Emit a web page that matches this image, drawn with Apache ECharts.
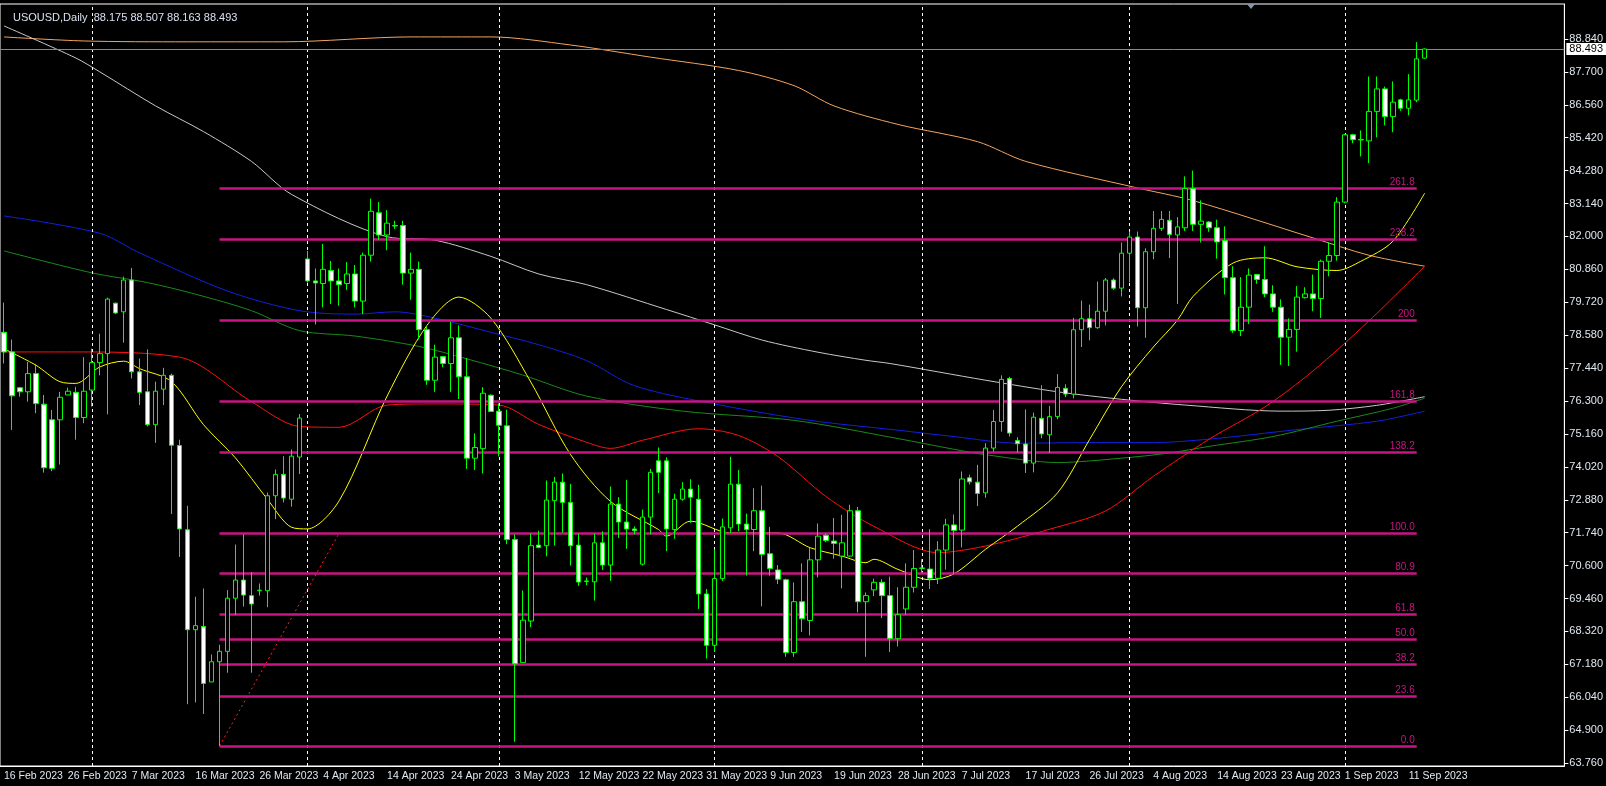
<!DOCTYPE html>
<html>
<head>
<meta charset="utf-8">
<script src="https://cdn.jsdelivr.net/npm/echarts@6/dist/echarts.min.js"></script>
<style>
html,body{margin:0;padding:0;background:#000;}
#main{width:1606px;height:786px;}
</style>
</head>
<body>
<div id="main"></div>
<script>
// daily candles, USOUSD 16 Feb 2023 .. 12 Sep 2023
var opens = [78.68,78.00,76.76,76.62,77.25,76.19,75.65,75.65,76.51,76.60,75.73,76.68,77.63,77.94,79.69,79.39,80.49,77.31,76.62,75.48,
76.71,77.19,74.76,71.84,68.38,68.49,66.57,67.27,67.63,69.47,70.10,69.56,69.73,69.73,73.02,73.76,72.90,74.36,81.22,80.46,
80.37,80.82,80.46,80.37,80.70,79.76,81.35,82.82,82.05,82.36,82.38,80.73,80.86,78.77,77.02,77.84,77.60,78.49,77.14,74.32,
74.65,76.50,75.95,75.44,71.50,67.24,68.68,71.31,71.29,72.85,73.49,72.79,71.31,70.05,70.04,71.39,70.62,72.73,72.11,71.87,
70.65,72.28,74.23,74.23,71.85,72.90,73.25,72.90,69.62,67.84,70.15,71.91,73.42,72.04,71.85,72.50,71.01,70.45,70.11,67.59,
69.35,68.70,70.80,71.65,71.45,70.93,70.93,72.50,69.35,69.76,70.02,69.56,68.07,69.10,69.85,70.50,70.48,70.16,71.14,72.01,
71.83,73.64,73.49,73.12,74.67,75.59,77.08,74.93,74.81,74.15,75.70,75.13,75.76,76.74,76.54,78.77,79.15,78.84,79.41,80.49,
80.21,81.42,81.98,79.53,81.47,82.28,82.56,82.05,82.30,83.66,82.42,82.50,82.30,81.86,80.57,78.74,79.55,80.68,80.51,80.01,
79.55,78.51,78.78,79.88,80.01,79.85,81.14,81.34,83.19,85.52,85.34,85.31,86.33,87.11,86.15,86.73,86.44,86.72,88.175];
var highs = [79.71,78.43,76.79,77.65,77.59,76.51,75.99,76.62,76.76,76.79,77.82,78.11,78.63,79.88,79.71,80.61,80.91,77.77,78.09,76.97,
77.45,77.25,74.96,72.67,69.52,69.81,67.52,67.86,69.75,71.33,71.68,70.38,69.98,73.13,73.93,74.39,74.62,75.85,81.50,80.89,
81.74,81.15,80.89,81.11,81.01,81.44,83.31,83.19,82.91,82.54,82.54,81.44,81.13,78.88,78.25,77.84,79.04,78.92,77.79,75.18,
76.78,76.53,76.22,76.00,71.68,69.74,71.71,71.81,73.55,73.67,73.79,73.43,71.71,70.19,71.71,71.79,73.34,72.97,73.57,71.96,
72.54,73.95,74.69,74.35,73.09,73.49,73.59,73.40,69.79,71.16,72.23,74.37,73.91,72.40,73.28,73.37,71.94,70.62,70.15,70.02,
70.68,71.22,72.06,71.71,72.25,72.36,72.71,72.63,69.67,70.15,70.13,70.22,69.85,70.68,71.14,70.82,71.86,71.45,72.22,72.37,
73.86,73.75,74.09,74.84,75.99,77.19,77.14,75.05,76.01,75.90,76.85,76.13,77.23,76.88,79.18,79.78,79.64,80.44,80.56,80.55,
81.79,82.17,82.17,81.59,82.88,82.88,82.88,82.67,84.08,84.28,83.25,82.53,82.58,82.35,80.97,80.59,80.89,80.70,81.66,80.31,
79.82,79.16,80.28,80.24,80.68,81.20,81.81,83.36,85.55,85.55,85.67,87.54,87.54,87.19,87.37,86.77,87.62,88.73,88.507];
var lows = [77.60,75.30,76.45,76.28,75.88,73.82,73.87,74.10,76.51,74.96,75.53,76.11,77.19,75.84,79.31,78.32,77.08,76.16,75.42,74.85,
76.16,72.39,70.90,65.80,65.86,65.46,66.57,64.35,66.89,68.89,69.18,66.89,69.56,69.16,72.21,72.79,72.64,73.77,80.40,78.95,
79.54,79.66,79.60,80.15,79.54,79.31,81.13,81.87,81.52,82.26,80.33,79.81,78.43,76.86,76.62,77.47,76.62,76.37,73.95,73.91,
73.79,75.92,74.38,71.34,64.50,67.24,68.47,71.20,70.92,71.29,71.74,70.60,69.90,69.92,69.39,70.45,70.07,71.56,71.18,71.68,
70.60,71.68,73.11,71.10,71.53,72.85,72.08,69.10,67.38,67.61,70.07,71.73,71.79,70.25,71.10,69.19,70.25,69.96,67.44,67.44,
68.30,68.18,70.19,71.41,70.84,69.81,70.91,68.98,67.44,69.54,68.78,67.61,67.80,68.90,69.67,70.36,69.79,69.96,70.46,70.31,
71.23,73.41,72.66,72.95,74.55,75.24,75.07,74.52,73.81,73.83,75.01,74.50,75.67,76.43,76.39,78.17,78.40,78.80,78.92,80.15,
79.92,80.41,78.88,78.49,81.21,82.19,81.25,79.66,82.19,82.19,81.79,82.16,81.23,79.99,78.66,78.55,78.97,80.36,79.90,79.39,
77.55,77.51,78.01,79.85,79.41,79.18,80.62,81.16,83.15,85.23,84.77,84.54,85.43,85.85,85.61,86.35,86.19,86.65,88.163];
var closes = [78.00,76.48,76.62,77.25,76.21,73.99,73.97,76.43,76.64,75.73,76.64,77.63,77.94,79.83,79.35,80.49,77.31,76.60,75.48,76.64,
77.19,74.77,71.87,68.38,68.52,66.52,67.27,67.63,69.47,70.10,69.58,69.27,69.75,73.02,73.76,72.94,74.39,75.71,80.46,80.39,
80.86,80.46,80.33,80.70,79.76,81.35,82.87,82.05,82.46,82.38,80.73,80.86,78.77,77.02,77.82,77.60,78.49,77.14,74.32,74.69,
76.57,75.94,75.46,71.50,67.20,68.71,71.29,71.23,72.87,73.49,72.79,71.29,70.03,70.07,71.39,70.62,72.73,72.11,71.87,71.81,
72.28,73.83,73.83,71.87,72.90,73.25,72.97,69.62,67.84,70.15,71.94,73.42,72.04,71.85,72.50,70.99,70.50,70.13,67.59,69.35,
68.76,70.80,71.62,71.47,71.37,71.39,72.50,69.35,69.56,70.02,69.56,68.07,68.90,69.85,70.50,70.52,70.16,71.14,72.01,71.82,
73.60,73.50,73.10,74.67,75.59,77.05,75.19,74.82,74.15,75.74,75.16,75.76,76.77,76.54,78.77,79.15,78.84,79.41,80.49,80.21,
81.42,81.98,79.53,81.47,82.28,82.59,82.07,82.33,83.66,82.42,82.53,82.30,81.81,80.57,78.74,79.55,80.66,80.51,80.01,79.55,
78.51,78.78,79.90,80.01,79.85,81.14,81.34,83.19,85.52,85.35,85.36,86.33,87.11,86.15,86.65,86.44,86.73,88.15,88.493];

// moving averages: [bar index, price]
var maYellow = [[0,78.11],[4,77.54],[7,76.97],[9,76.91],[12,77.48],[15,77.68],[17,77.42],[21,76.97],[25,75.48],[29,74.33],[33,72.90],[36,71.93],
  [38,71.87],[42,72.85],[48,76.47],[53,78.92],[57,79.90],[61,79.17],[66,76.96],[71,74.44],[76,72.82],[82,71.85],[83,71.62],[86,72.14],[91,71.73],
  [97,71.73],[101,71.22],[105,70.93],[108,70.70],[109,70.82],[112,70.47],[116,70.11],[119,70.31],[123,71.17],[127,71.97],[132,73.12],[136,74.96],
  [140,76.79],[144,78.17],[147,79.09],[149,79.93],[154,81.08],[158,81.26],[162,80.95],[167,80.82],[170,81.14],[174,81.83],[178,83.50]];
var maRed = [[0,78.00],[9,78.00],[22,77.82],[31,76.28],[37,75.42],[42,75.39],[48,76.16],[54,76.20],[62,76.16],[67,75.49],[73,74.87],[76,74.66],
  [80,74.94],[87,75.34],[92,75.11],[97,74.37],[103,72.99],[109,71.96],[117,71.05],[123,71.28],[131,71.86],[138,72.49],[144,73.69],[151,74.98],
  [158,76.10],[164,77.34],[171,79.07],[178,80.97]];
var maGreen = [[0,81.50],[11,80.74],[18,80.40],[24,80.00],[31,79.43],[37,78.74],[44,78.55],[52,78.19],[58,77.76],[65,77.20],[73,76.47],[85,75.95],
  [99,75.63],[112,75.00],[119,74.63],[123,74.44],[132,74.17],[140,74.32],[146,74.50],[151,74.73],[159,75.07],[167,75.60],[174,76.05],[178,76.40]];
var maBlue = [[0,82.71],[12,82.11],[17,81.43],[28,80.11],[37,79.43],[44,79.31],[49,79.39],[54,79.17],[61,78.68],[67,78.25],[73,77.70],[79,76.83],
  [89,76.20],[101,75.63],[112,75.29],[119,75.07],[127,74.84],[136,74.86],[144,74.86],[151,74.98],[162,75.31],[172,75.60],[178,75.95]];
var maWhite = [[0,89.29],[9,88.18],[12,87.70],[19,86.52],[25,85.63],[31,84.60],[36,83.46],[48,81.99],[54,81.87],[61,81.31],[67,80.70],[73,80.33],
  [83,79.47],[89,78.94],[95,78.41],[102,77.99],[108,77.71],[111,77.60],[123,77.02],[132,76.62],[140,76.36],[148,76.16],[160,75.95],[166,75.98],
  [172,76.15],[178,76.45]];
var maOrange = [[0,88.91],[10,88.77],[23,88.74],[35,88.74],[51,88.91],[61,88.91],[71,88.63],[81,88.21],[92,87.75],[99,87.22],[104,86.52],
  [112,85.88],[122,85.28],[128,84.60],[142,83.68],[149,83.24],[164,81.95],[171,81.35],[178,80.97]];

// fibonacci expansion
var fibNames = ['0.0','23.6','38.2','50.0','61.8','80.9','100.0','138.2','161.8','200','238.2','261.8'];
var fibPrices = [64.35,66.09,67.17,68.04,68.91,70.32,71.73,74.54,76.28,79.10,81.92,83.66];
var fibFrom = 27, fibTo = 177;
var fibAnchor = [[27,64.35],[42,71.73]];

var dateLabels = ['16 Feb 2023','26 Feb 2023','7 Mar 2023','16 Mar 2023','26 Mar 2023','4 Apr 2023','14 Apr 2023','24 Apr 2023',
  '3 May 2023','12 May 2023','22 May 2023','31 May 2023','9 Jun 2023','19 Jun 2023','28 Jun 2023','7 Jul 2023','17 Jul 2023',
  '26 Jul 2023','4 Aug 2023','14 Aug 2023','23 Aug 2023','1 Sep 2023','11 Sep 2023'];
var monthIdx = [11,38,62,89,115,141,168];
var priceTicks = [63.76,64.90,66.04,67.18,68.32,69.46,70.60,71.74,72.88,74.02,75.16,76.30,77.44,78.58,79.72,80.86,82.00,
  83.14,84.28,85.42,86.56,87.70,88.84];
var lastPrice = 88.493;

var totalBars = 196;
var cats = [];
for (var i = 0; i < totalBars; i++) cats.push(i % 8 === 0 && i / 8 < dateLabels.length ? dateLabels[i / 8] : '');
var candles = [];
for (var i = 0; i < opens.length; i++) candles.push([opens[i], closes[i], lows[i], highs[i]]);

var myChart = echarts.init(document.getElementById('main'));

function maSeries(data, color){
    return {type:'line', data:data, showSymbol:false, smooth:0.3, silent:true,
        lineStyle:{color:color, width:1}, z:3};
}

var fibLines = [];
for (var k = 0; k < fibPrices.length; k++) {
    fibLines.push([
        {coord:[fibFrom, fibPrices[k]], label:{formatter:fibNames[k]}},
        {coord:[fibTo, fibPrices[k]]}
    ]);
}

var labelFont = 'Liberation Sans';

var option = {
    backgroundColor:'#000',
    animation:false,
    textStyle:{fontFamily:labelFont},
    title:{
        text:'USOUSD,Daily  88.175 88.507 88.163 88.493',
        left:8, top:7,
        textStyle:{color:'#d8e0f0', fontSize:11, fontWeight:'normal', fontFamily:labelFont}
    },
    grid:{left:0, right:38, top:4, bottom:20, show:true, borderColor:'#fff', borderWidth:1, backgroundColor:'#000'},
    xAxis:{
        type:'category', data:cats, boundaryGap:true,
        axisLine:{lineStyle:{color:'#fff'}},
        axisTick:{alignWithLabel:true, length:4, lineStyle:{color:'#fff'},
            interval:function(i){ return i % 8 === 0 && i <= 176; }},
        axisLabel:{color:'#e0e8f0', fontSize:10.5, align:'left', margin:5, showMinLabel:true, hideOverlap:false,
            fontFamily:labelFont,
            interval:function(i){ return i % 8 === 0 && i <= 176; }},
        splitLine:{show:false}
    },
    yAxis:{
        type:'value', position:'right', min:63.66, max:90.05, scale:true,
        axisLine:{show:true, lineStyle:{color:'#fff'}},
        axisTick:{show:true, length:4, customValues:priceTicks, lineStyle:{color:'#fff'}},
        axisLabel:{color:'#e0e8f0', fontSize:11, margin:5, customValues:priceTicks, fontFamily:labelFont,
            formatter:function(v){ return v.toFixed(3); }},
        splitLine:{show:false}
    },
    series:[
        {   // month separators
            type:'line', data:[], silent:true,
            markLine:{symbol:'none', silent:true, animation:false,
                lineStyle:{color:'#fff', type:[3,3], width:1},
                label:{show:false},
                data:monthIdx.map(function(m){ return {xAxis:m}; })}
        },
        maSeries(maOrange, '#f4a460'),
        maSeries(maWhite, '#c8c8c8'),
        maSeries(maBlue, '#1020e0'),
        maSeries(maGreen, '#1a8a1a'),
        maSeries(maRed, '#ff1010'),
        maSeries(maYellow, '#ffff00'),
        {   // fib levels
            type:'line', data:[], silent:true,
            markLine:{symbol:'none', silent:true, animation:false,
                lineStyle:{color:'#c71585', type:'solid', width:2.5},
                label:{show:true, position:'insideEndTop', color:'#c71585', fontSize:10, distance:[2,1], fontFamily:labelFont},
                data:fibLines}
        },
        {   // fib anchor
            type:'line', data:fibAnchor, showSymbol:false, silent:true,
            lineStyle:{color:'#ff2020', width:1, type:[2,3]}, z:2
        },
        {
            type:'candlestick', data:candles, barWidth:5, z:5,
            itemStyle:{color:'#000', color0:'#fff', borderColor:'#00ff00', borderColor0:'#00ff00', borderWidth:1},
            markLine:{symbol:'none', silent:true, animation:false,
                lineStyle:{color:'#7f8a99', type:'solid', width:1},
                label:{show:true, position:'end', formatter:'88.493', color:'#000', backgroundColor:'#fff',
                    fontSize:11, padding:[1,3,0,3], distance:2, fontFamily:labelFont},
                data:[{yAxis:lastPrice}]}
        }
    ],
    graphic:[{type:'polygon', shape:{points:[[1247,4],[1255,4],[1251,9]]}, style:{fill:'#8a96a8'}, silent:true}]
};
myChart.setOption(option, true);
</script>
</body>
</html>
